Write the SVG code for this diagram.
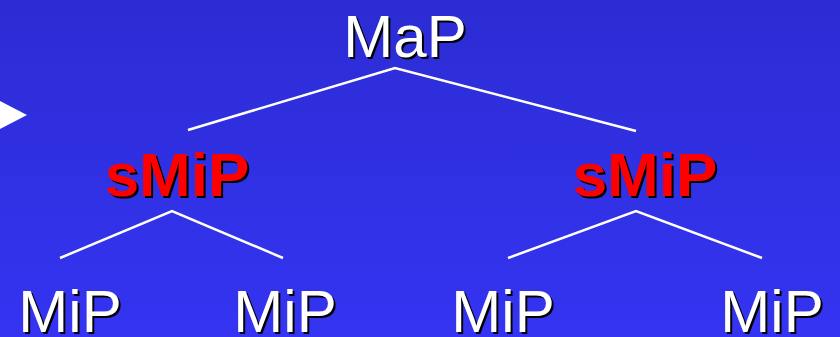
<svg xmlns="http://www.w3.org/2000/svg" width="840" height="337" viewBox="0 0 840 337">
  <defs>
    <linearGradient id="bg" x1="0" y1="0" x2="0" y2="1">
      <stop offset="0" stop-color="#2c2cd4"/>
      <stop offset="1" stop-color="#3434f2"/>
    </linearGradient>
  </defs>
  <style>
    text { font-family: "Liberation Sans", Arial, sans-serif; text-anchor: middle; }
    .lbl { font-size: 60px; fill: #ffffff; }
    .red { font-size: 62px; font-weight: bold; fill: #ff0000; }
    .sh { fill: #000000; }
    .edge { stroke: #ffffff; stroke-width: 2.5; fill: none; }
  </style>
  <rect width="840" height="337" fill="url(#bg)"/>
  <polygon points="0,101 27,115 0,129" fill="#ffffff"/>

  <g id="connectors">
    <polyline class="edge" points="188,130 395,68 636,131"/>
    <polyline class="edge" points="60,258 172,211 283,258"/>
    <polyline class="edge" points="508,258 636,211 762,258"/>
  </g>

  <!-- each label: black shadow copy offset 2px, then the label itself -->
  <g id="map">
    <text class="lbl sh" x="407" y="59">MaP</text>
    <text class="lbl" x="405" y="57">MaP</text>
  </g>
  <g id="smip-left">
    <text class="red sh" x="179" y="198">sMiP</text>
    <text class="red" x="177" y="196">sMiP</text>
  </g>
  <g id="smip-right">
    <text class="red sh" x="647" y="198">sMiP</text>
    <text class="red" x="645" y="196">sMiP</text>
  </g>
  <g id="mip-1">
    <text class="lbl sh" x="72" y="334">MiP</text>
    <text class="lbl" x="70" y="332">MiP</text>
  </g>
  <g id="mip-2">
    <text class="lbl sh" x="287" y="334">MiP</text>
    <text class="lbl" x="285" y="332">MiP</text>
  </g>
  <g id="mip-3">
    <text class="lbl sh" x="505" y="334">MiP</text>
    <text class="lbl" x="503" y="332">MiP</text>
  </g>
  <g id="mip-4">
    <text class="lbl sh" x="774" y="334">MiP</text>
    <text class="lbl" x="772" y="332">MiP</text>
  </g>
</svg>
